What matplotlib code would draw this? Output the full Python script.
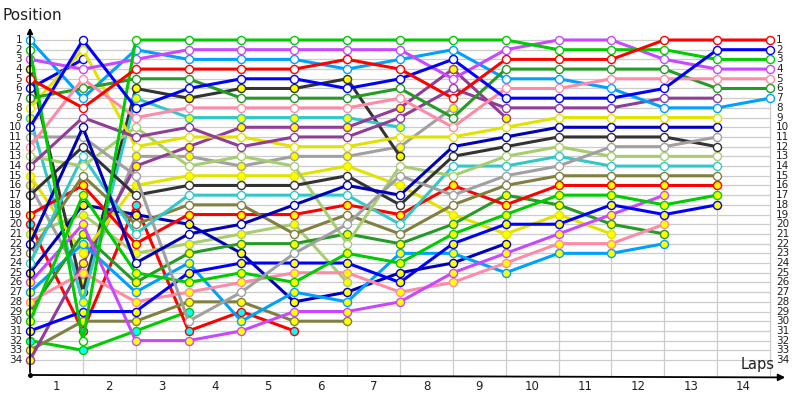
import matplotlib
matplotlib.use('Agg')
import matplotlib.pyplot as plt
import numpy as np

# lap chart: position of every car at each timing line (start + 14 laps)
laps = [str(i) for i in range(1, 15)]
places = list(range(1, 35))

# cars with white markers
green = [2, 32, 1, 1, 1, 1, 1, 1, 1, 1, 2, 2, 2, 3, 3]
magenta = [3, 4, 3, 2, 2, 2, 2, 2, 5, 2, 1, 1, 3, 4, 4]
lightblue = [1, 7, 2, 3, 3, 3, 4, 3, 2, 5, 5, 6, 8, 8, 7]
red = [5, 8, 4, 4, 4, 4, 3, 4, 7, 3, 3, 3, 1, 1, 1]
darkgreen = [7, 6, 5, 5, 7, 7, 7, 6, 9, 4, 4, 4, 4, 6, 6]
blue = [10, 1, 8, 6, 5, 5, 6, 5, 3, 7, 7, 7, 6, 2, 2]
pink = [12, 5, 9, 8, 8, 8, 8, 7, 10, 6, 6, 5, 5, 5, 5]
purple = [14, 9, 11, 10, 12, 11, 11, 9, 6, 8, 8, 8, 7, 7]
yellow = [8, 2, 12, 11, 11, 12, 12, 11, 11, 10, 9, 9, 9, 9]
gray = [11, 11, 15, 30, 27, 23, 20, 15, 17, 15, 14, 12, 12, 11]
yellowgreen = [13, 14, 10, 14, 13, 14, 22, 14, 15, 13, 12, 13, 13, 13]
black = [17, 12, 17, 16, 16, 16, 15, 18, 13, 12, 11, 11, 11, 12]
turquoise = [24, 13, 21, 17, 17, 17, 17, 20, 14, 14, 13, 14, 14, 14]
olive = [23, 15, 20, 18, 18, 21, 19, 21, 18, 16, 15, 15, 15, 15]
navy = [22, 10, 24, 21, 20, 18, 16, 17, 12, 11, 10, 10, 10, 10]
blue_2 = [6, 3]

# cars with yellow markers
black_y = [4, 27, 6, 7, 6, 6, 5, 13]
turquoise_y = [9, 28, 7, 9, 9, 9, 9, 10]
purple_y = [34, 24, 14, 12, 10, 10, 10, 8, 4, 9]
gray_y = [16, 26, 13, 13, 14, 13, 13, 12, 8]
yellow_y = [15, 23, 16, 15, 15, 15, 14, 16, 19, 21, 19, 21]
red_y = [19, 16, 22, 19, 19, 19, 18, 19, 16, 18, 16, 16, 16, 16]
navy_y = [25, 18, 19, 20, 23, 28, 27, 25, 24, 22]
yellowgreen_y = [21, 19, 23, 22, 21, 20, 26]
darkgreen_y = [29, 21, 26, 23, 22, 22, 21, 22, 20, 17, 18, 20, 21]
lightblue_y = [27, 22, 27, 24, 30, 27, 28, 23, 23, 25, 23, 23, 22]
blue_y = [31, 29, 29, 25, 24, 24, 24, 26, 22, 20, 20, 18, 19, 18]
green_y = [30, 17, 25, 26, 25, 26, 23, 24, 21, 19, 17, 17, 18, 17]
pink_y = [28, 25, 28, 27, 26, 25, 25, 27, 26, 24, 22, 22, 20]
olive_y = [33, 30, 30, 28, 28, 30, 30]
magenta_y = [26, 20, 32, 32, 31, 29, 29, 28, 25, 23, 21, 19, 17]

# cars with cyan markers
red_c = [20, 31, 18, 31, 29, 31]
green_c = [32, 33, 31, 29]

C = {'red': '#ff0000', 'blue': '#0000ff', 'green': '#00cc00', 'magenta': '#c848ff',
     'pink': '#ff8aa8', 'darkgreen': '#259a25', 'lightblue': '#00a0ff',
     'purple': '#903c98', 'yellow': '#e2e200', 'navy': '#0000b4', 'gray': '#a0a0a0',
     'black': '#333333', 'yellowgreen': '#a8cc70', 'turquoise': '#33c8c8',
     'olive': '#808040'}
W, Y, CY = '#ffffff', '#ffff00', '#00ffff'

cars = [
    (green_c, 'green', CY), (red_c, 'red', CY),
    (olive_y, 'olive', Y), (yellowgreen_y, 'yellowgreen', Y), (gray_y, 'gray', Y),
    (black_y, 'black', Y), (turquoise_y, 'turquoise', Y), (navy_y, 'navy', Y),
    (purple_y, 'purple', Y), (yellow_y, 'yellow', Y), (lightblue_y, 'lightblue', Y),
    (darkgreen_y, 'darkgreen', Y), (pink_y, 'pink', Y), (magenta_y, 'magenta', Y),
    (blue_y, 'blue', Y), (green_y, 'green', Y), (red_y, 'red', Y),
    (blue_2, 'blue', W), (olive, 'olive', W), (turquoise, 'turquoise', W),
    (yellowgreen, 'yellowgreen', W), (black, 'black', W), (gray, 'gray', W),
    (navy, 'navy', W), (yellow, 'yellow', W), (purple, 'purple', W),
    (lightblue, 'lightblue', W), (darkgreen, 'darkgreen', W), (pink, 'pink', W),
    (magenta, 'magenta', W), (green, 'green', W), (blue, 'blue', W), (red, 'red', W),
]

# pixel geometry of the original
PX = 52.86   # px per lap column
PY = 9.697   # px per position
bottom = 1 + 335 / PY
top = 1 - 15 / PY

fig = plt.figure(figsize=(8, 4), dpi=100)
ax = fig.add_axes([0, 0, 1, 1])
ax.set_xlim(-30 / PX, 770 / PX)
ax.set_ylim(1 + 360 / PY, 1 - 40 / PY)
ax.axis('off')

n = len(laps) + 1
# grid
for p in places:
    ax.plot([0, n - 1], [p, p], color='#cccccc', lw=0.9, zorder=1)
for k in range(1, n):
    ax.plot([k, k], [1, bottom], color='#cccccc', lw=0.9, zorder=1)

# cars
z = 3
for pos, col, face in cars:
    xs = np.arange(len(pos))
    ax.plot(xs, pos, color=C[col], lw=2.2, zorder=z, solid_capstyle='round')
    ax.plot(xs, pos, 'o', ms=5.8, mfc=face, mec=C[col], mew=1.0, zorder=z + 0.5)
    z += 1

# axes with arrows
ax.annotate('', xy=(0, top), xytext=(0, bottom),
            arrowprops=dict(arrowstyle='-|>', color='black', lw=1.3, mutation_scale=8),
            zorder=60)
ax.annotate('', xy=(758 / PX, bottom + 0.25), xytext=(0, bottom),
            arrowprops=dict(arrowstyle='-|>', color='black', lw=1.3, mutation_scale=10),
            zorder=60)
ax.plot([0], [bottom], 'o', color='black', ms=2.5, zorder=61)

# tick labels
for p in places:
    ax.text(-8 / PX, p, str(p), ha='right', va='center', fontsize=7.5, color='#202020')
    ax.text(746 / PX, p, str(p), ha='left', va='center', fontsize=7.5, color='#202020')
for i, lab in enumerate(laps):
    ax.text(i + 0.5, 1 + 346 / PY, lab, ha='center', va='center', fontsize=8.5, color='#202020')

ax.text(-27 / PX, 1 - 25 / PY, 'Position', ha='left', va='center', fontsize=11, color='#202020')
ax.text(711 / PX, 1 + 325 / PY, 'Laps', ha='left', va='center', fontsize=10.5, color='#202020')

plt.savefig('out.png', dpi=100)
